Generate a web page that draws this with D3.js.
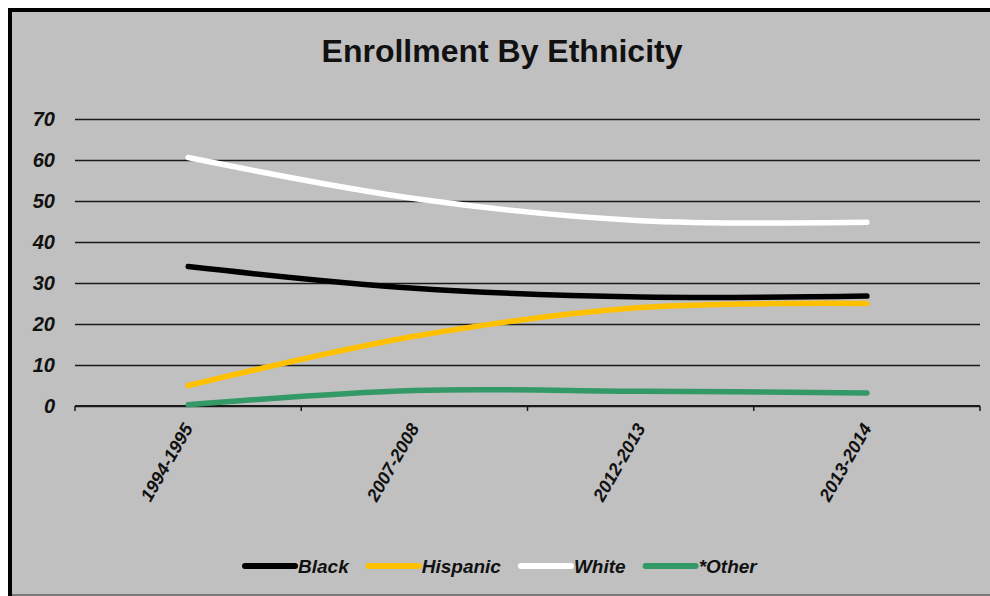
<!DOCTYPE html>
<html>
<head>
<meta charset="utf-8">
<script src="https://cdn.jsdelivr.net/npm/d3@7"></script>
<style>
  body { margin: 0; background: #fff; }
  text { font-family: "Liberation Sans", Arial, sans-serif; }
</style>
</head>
<body>
<div id="chart"></div>
<script>
// school years on the x axis
const years = ["1994-1995", "2007-2008", "2012-2013", "2013-2014"];

// percent of enrollment
const black = [34, 28.7, 26.6, 26.8];
const hispanic = [5, 17, 24, 25];
const white = [60.6, 50.6, 45.2, 44.8];
const other = [0.3, 3.8, 3.6, 3.2];

const yTicks = [0, 10, 20, 30, 40, 50, 60, 70];

const seriesNames = ["Black", "Hispanic", "White", "*Other"];
const seriesColors = ["#000000", "#ffc000", "#ffffff", "#339966"];
const seriesValues = [black, hispanic, white, other];

const W = 990, H = 596;
const margin = { top: 119, right: 10, bottom: 190, left: 75 };
const width = W - margin.left - margin.right,
    height = H - margin.top - margin.bottom;

const svg = d3.select("#chart").append("svg")
    .attr("width", W)
    .attr("height", H);

// chart frame: black top and left edge, grey fill, darker bottom line
svg.append("rect")
    .attr("x", 8).attr("y", 8)
    .attr("width", W - 8).attr("height", H - 8)
    .attr("fill", "#000");
svg.append("rect")
    .attr("x", 12).attr("y", 12)
    .attr("width", W - 12).attr("height", H - 12)
    .attr("fill", "#c0c0c0");
svg.append("line")
    .attr("x1", 12).attr("x2", W)
    .attr("y1", H - 1).attr("y2", H - 1)
    .attr("stroke", "#7a7a7a")
    .attr("stroke-width", 2);

svg.append("text")
    .attr("x", 502)
    .attr("y", 62)
    .attr("text-anchor", "middle")
    .attr("font-size", 32)
    .attr("font-weight", "bold")
    .attr("fill", "#111")
    .text("Enrollment By Ethnicity");

const g = svg.append("g")
    .attr("transform", `translate(${margin.left},${margin.top})`);

const xScale = d3.scaleBand()
    .domain(years)
    .range([0, width])
    .padding(0);

const yScale = d3.scaleLinear()
    .domain([0, 70])
    .range([height, 0]);

// y axis with gridlines
const yAxis = d3.axisLeft(yScale)
    .tickValues(yTicks)
    .tickSize(-width)
    .tickPadding(20);

g.append("g")
    .attr("class", "axis y-axis")
    .call(yAxis)
    .call(a => a.select(".domain").remove())
    .call(a => a.selectAll(".tick line")
        .attr("stroke", "#1a1a1a")
        .attr("stroke-width", 1.5))
    .call(a => a.selectAll(".tick text")
        .attr("font-size", 20)
        .attr("font-weight", "bold")
        .attr("font-style", "italic")
        .attr("fill", "#111")
        .attr("font-family", "Liberation Sans, Arial, sans-serif"));

// x axis: ticks between categories, labels at band centres
const bounds = years.map(d => xScale(d)).concat([width]);
g.append("g")
    .selectAll("line")
    .data(bounds)
    .join("line")
    .attr("x1", d => d).attr("x2", d => d)
    .attr("y1", height).attr("y2", height + 5)
    .attr("stroke", "#1a1a1a")
    .attr("stroke-width", 1.5);

g.append("line")
    .attr("x1", 0).attr("x2", width)
    .attr("y1", height).attr("y2", height)
    .attr("stroke", "#1a1a1a")
    .attr("stroke-width", 2);

g.append("g")
    .selectAll("text")
    .data(years)
    .join("text")
    .attr("transform", d => `translate(${xScale(d) + xScale.bandwidth() / 2},${height + 19}) rotate(-60)`)
    .attr("text-anchor", "end")
    .attr("dy", "0.35em")
    .attr("font-size", 18)
    .attr("font-weight", "bold")
    .attr("font-style", "italic")
    .attr("fill", "#111")
    .text(d => d);

// smoothed lines
const line = d3.line()
    .curve(d3.curveCatmullRom.alpha(0.5))
    .x((d, i) => xScale(years[i]) + xScale.bandwidth() / 2)
    .y(d => yScale(d));

g.append("g")
    .selectAll("path")
    .data(seriesValues)
    .join("path")
    .attr("fill", "none")
    .attr("stroke", (d, i) => seriesColors[i])
    .attr("stroke-width", 5.5)
    .attr("stroke-linecap", "round")
    .attr("stroke-linejoin", "round")
    .attr("d", line);

// legend
const legend = svg.append("g");
let lx = 245;
const ly = 566;
seriesNames.forEach((name, i) => {
    legend.append("line")
        .attr("x1", lx).attr("x2", lx + 50)
        .attr("y1", ly).attr("y2", ly)
        .attr("stroke", seriesColors[i])
        .attr("stroke-width", 6)
        .attr("stroke-linecap", "round");
    const t = legend.append("text")
        .attr("x", lx + 53)
        .attr("y", ly)
        .attr("dy", "0.35em")
        .attr("font-size", 19)
        .attr("font-weight", "bold")
        .attr("font-style", "italic")
        .attr("fill", "#111")
        .text(name);
    lx += 53 + t.node().getComputedTextLength() + 20;
});
</script>
</body>
</html>
